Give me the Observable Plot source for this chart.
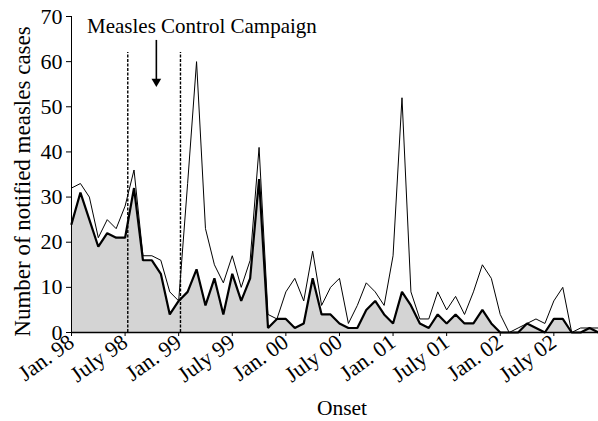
<!DOCTYPE html>
<html>
<head>
<meta charset="utf-8">
<script src="https://cdn.jsdelivr.net/npm/d3@7"></script>
<script src="https://cdn.jsdelivr.net/npm/@observablehq/plot@0.6"></script>
<style>
  html, body { margin: 0; padding: 0; background: white; }
</style>
</head>
<body>
<div id="chart"></div>
<script>
// Monthly onset, Jan 1998 (index 0) to Dec 2002 (index 59)
const notified = [32, 33, 30, 21, 25, 23, 28, 36, 17, 17, 16, 9,
                  7, 33, 60, 23, 15, 11, 17, 10, 16, 41, 4, 3,
                  9, 12, 7, 18, 6, 10, 12, 2, 6, 11, 9, 6,
                  17, 52, 9, 3, 3, 9, 5, 8, 4, 9, 15, 12,
                  4, 0, 1, 2, 3, 2, 7, 10, 0, 1, 1, 1];
const confirmed = [24, 31, 25, 19, 22, 21, 21, 32, 16, 16, 13, 4,
                   7, 9, 14, 6, 12, 4, 13, 7, 12, 34, 1, 3,
                   3, 1, 2, 12, 4, 4, 2, 1, 1, 5, 7, 4,
                   2, 9, 6, 2, 1, 4, 2, 4, 2, 2, 5, 2,
                   0, 0, 0, 2, 1, 0, 3, 3, 0, 0, 1, 0];
const tickMonths = [0, 6, 12, 18, 24, 30, 36, 42, 48, 54];
const tickLabels = ["Jan. 98", "July 98", "Jan. 99", "July 99", "Jan. 00",
                    "July 00", "Jan. 01", "July 01", "Jan. 02", "July 02"];
const yTicks = [0, 10, 20, 30, 40, 50, 60, 70];
const campaignBounds = [6.3, 12.2]; // month index of campaign start / end
const annotation = "Measles Control Campaign";
const yLabel = "Number of notified measles cases";
const xLabel = "Onset";

const data = notified.map((v, i) => ({i, notified: v, confirmed: confirmed[i]}));

const chart = Plot.plot({
  width: 598,
  height: 421,
  marginLeft: 71,
  marginRight: 0,
  marginTop: 16,
  marginBottom: 89,
  x: {domain: [0, 59]},
  y: {domain: [0, 70]},
  style: {fontFamily: "'Liberation Serif', 'Times New Roman', serif", fontSize: "20px", color: "black", background: "white", overflow: "visible"},
  marks: [
    Plot.areaY(data, {x: "i", y: "confirmed", fill: "#d4d4d4"}),
    Plot.lineY(data, {x: "i", y: "notified", stroke: "black", strokeWidth: 1, strokeLinejoin: "miter"}),
    Plot.lineY(data, {x: "i", y: "confirmed", stroke: "black", strokeWidth: 2.2, strokeLinejoin: "miter"}),
    Plot.ruleX(campaignBounds, {y1: 0, y2: 62, stroke: "black", strokeWidth: 1.4, strokeDasharray: "3,1.5"}),
    Plot.ruleY([0], {stroke: "black", strokeWidth: 1.5}),
    Plot.ruleX([0], {y1: 0, y2: 70, stroke: "black", strokeWidth: 1}),
    Plot.axisY({ticks: yTicks, tickSize: 5, tickPadding: 4, label: null, fontSize: 22}),
    Plot.axisX({ticks: tickMonths, tickFormat: (d) => tickLabels[tickMonths.indexOf(d)], tickRotate: -36, tickSize: 4, tickPadding: 3, label: null, fontSize: 22}),
    Plot.text([annotation], {x: 14.6, y: 67.8, text: (d) => d, fontSize: 21, lineAnchor: "middle"}),
    Plot.ruleX([9.5], {y1: 64.7, y2: 55.8, stroke: "black", strokeWidth: 1.6}),
    Plot.dot([9.5], {x: (d) => d, y: 55.6, symbol: "triangle", r: 3.6, fill: "black", rotate: 180}),
    Plot.text([yLabel], {frameAnchor: "left", text: (d) => d, rotate: -90, textAnchor: "middle", lineAnchor: "middle", dx: -49, dy: 7, fontSize: 23}),
    Plot.text([xLabel], {frameAnchor: "bottom", text: (d) => d, textAnchor: "middle", lineAnchor: "middle", dx: 7, dy: 76, fontSize: 21.5})
  ]
});
document.getElementById("chart").appendChild(chart);
</script>
</body>
</html>
